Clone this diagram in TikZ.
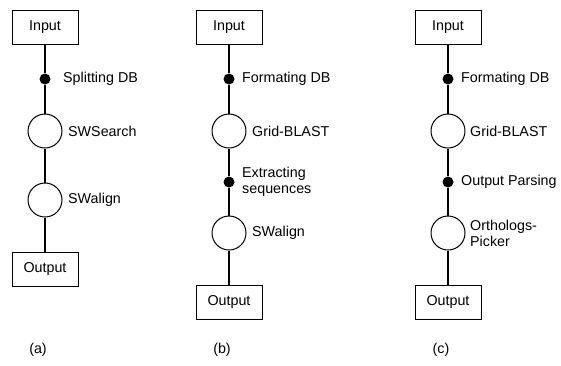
\documentclass[tikz,border=0pt]{standalone}
\usepackage{fontspec}
\setmainfont{Liberation Sans}
\begin{document}
\begin{tikzpicture}[x=1pt,y=-1pt,
  every node/.style={font=\fontsize{14.3}{16}\selectfont},
  box/.style={draw,line width=1pt,minimum width=66pt,minimum height=34pt,inner sep=0pt},
  circ/.style={draw,circle,line width=1pt,minimum size=34pt,inner sep=0pt},
  jdot/.style={fill,circle,minimum size=11pt,inner sep=0pt},
  conn/.style={line width=2.7pt},
  lbl/.style={anchor=west,inner sep=0pt,align=left},
  subcap/.style={inner sep=0pt}]
\useasboundingbox (0,0) rectangle (561,365);
% (a)
\node[box] (ia) at (45,27) {Input};
\node[jdot] (da) at (45,79) {};
\node[circ] (sa) at (45,131) {};
\node[circ] (wa) at (45,200) {};
\node[box] (oa) at (45,269) {Output};
\draw[conn] (ia) -- (da);
\draw[conn] (da) -- (sa);
\draw[conn] (sa) -- (wa);
\draw[conn] (wa) -- (oa);
\node[lbl] (la1) at (63,79) {Splitting DB};
\node[lbl] (la2) at (68,131) {SWSearch};
\node[lbl] (la3) at (68,200) {SWalign};
\node[subcap] (ca) at (38,350) {(a)};
% (b)
\node[box] (ib) at (229,27) {Input};
\node[jdot] (db1) at (229,79) {};
\node[circ] (gb) at (229,131) {};
\node[jdot] (db2) at (229,182) {};
\node[circ] (wb) at (229,233) {};
\node[box] (ob) at (229,302) {Output};
\draw[conn] (ib) -- (db1);
\draw[conn] (db1) -- (gb);
\draw[conn] (gb) -- (db2);
\draw[conn] (db2) -- (wb);
\draw[conn] (wb) -- (ob);
\node[lbl] (lb1) at (242,79) {Formating DB};
\node[lbl] (lb2) at (252,131) {Grid-BLAST};
\node[lbl] (lb3) at (242,182) {Extracting\\sequences};
\node[lbl] (lb4) at (252,233) {SWalign};
\node[subcap] (cb) at (222,350) {(b)};
% (c)
\node[box] (ic) at (448,27) {Input};
\node[jdot] (dc1) at (448,79) {};
\node[circ] (gc) at (448,131) {};
\node[jdot] (dc2) at (448,182) {};
\node[circ] (pc) at (448,233) {};
\node[box] (oc) at (448,302) {Output};
\draw[conn] (ic) -- (dc1);
\draw[conn] (dc1) -- (gc);
\draw[conn] (gc) -- (dc2);
\draw[conn] (dc2) -- (pc);
\draw[conn] (pc) -- (oc);
\node[lbl] (lc1) at (461,79) {Formating DB};
\node[lbl] (lc2) at (470,131) {Grid-BLAST};
\node[lbl] (lc3) at (461,182) {Output Parsing};
\node[lbl] (lc4) at (470,233) {Orthologs-\\Picker};
\node[subcap] (cc) at (441,350) {(c)};
\end{tikzpicture}
\end{document}
